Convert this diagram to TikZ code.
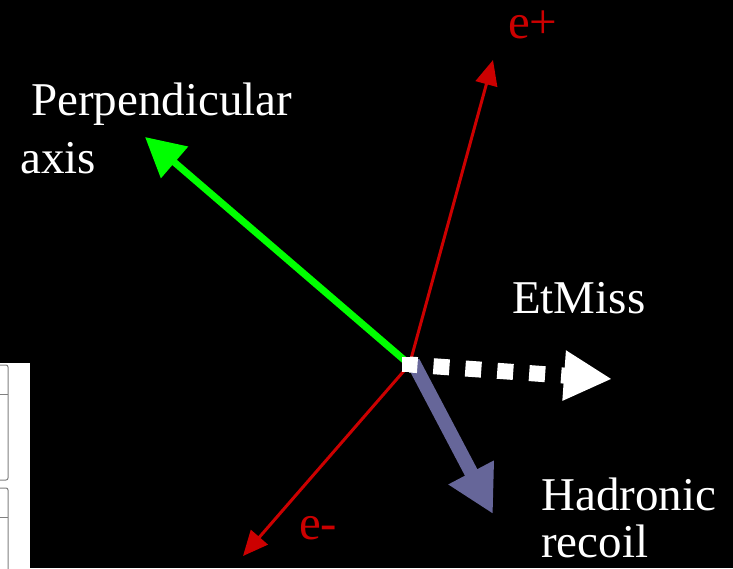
\documentclass[tikz,border=0pt]{standalone}
\usepackage{fontspec}
\setmainfont{Liberation Serif}
\usetikzlibrary{arrows.meta}

\definecolor{elecred}{RGB}{204,0,0}
\definecolor{perpgreen}{RGB}{0,255,0}
\definecolor{recoilblue}{RGB}{102,102,153}
\definecolor{tablegray}{RGB}{128,128,128}

\tikzset{
    lbl/.style={text=white, inner sep=0pt, anchor=base west, font=\fontsize{47}{56}\selectfont},
    elbl/.style={lbl, text=elecred, font=\fontsize{49}{58}\selectfont},
    electron/.style={elecred, line width=3pt, -{Triangle[length=25pt, width=22pt]}},
}

\begin{document}
\begin{tikzpicture}[x=1pt, y=-1pt]
    \fill[black] (0,0) rectangle (733,568);
    \useasboundingbox (0,0) rectangle (733,568);
    % Cut off table on the left edge.
        \fill[white] (0,363) rectangle (30,568);
        \draw[tablegray, line width=1pt, rounded corners=2pt] (0,365) -- (8,365) -- (8,480) -- (0,480);
        \draw[tablegray, line width=1pt] (0,394) -- (8,394);
        \draw[tablegray, line width=1pt, rounded corners=2pt] (0,488) -- (8,488) -- (8,569);
        \draw[tablegray, line width=1pt] (0,517) -- (8,517);
    % Vertex and the arrow ends.
        \node[fill=white, minimum size=15pt, inner sep=0pt] (vertex) at (409.5,364.5) {};
        \coordinate (eplus) at (493,60);
        \coordinate (eminus) at (243,556);
        \coordinate (perp) at (145,137);
        \coordinate (etmiss) at (612,379);
        \coordinate (recoil) at (493,514);
    % The vectors.
        \draw[electron] (vertex.center) -- (eplus);
        \draw[electron] (vertex.center) -- (eminus);
        \draw[perpgreen, line width=7pt, -{Triangle[length=39pt, width=40pt]}] (vertex.center) -- (perp);
        \draw[recoilblue, line width=14pt, -{Triangle[length=47pt, width=48pt]}] (413,362) -- (recoil);
        \node[fill=white, minimum size=15pt, inner sep=0pt] at (vertex) {};
        \draw[white, line width=16pt, dash pattern=on 16pt off 16pt, dash phase=8pt, -{Triangle[length=48pt, width=47pt]}] (vertex.center) -- (etmiss);
    % Below nodes are the labels.
        \node[lbl] (perplbl) at (31,115) {Perpendicular};
        \node[lbl] (axislbl) at (20,173) {axis};
        \node[lbl] (etmisslbl) at (512,313) {EtMiss};
        \node[lbl] (hadlbl) at (541,510) {Hadronic};
        \node[lbl] (recoillbl) at (541,557) {recoil};
        \node[elbl] (epluslbl) at (508,38) {e+};
        \node[elbl] (eminuslbl) at (299,539) {e-};
\end{tikzpicture}
\end{document}
